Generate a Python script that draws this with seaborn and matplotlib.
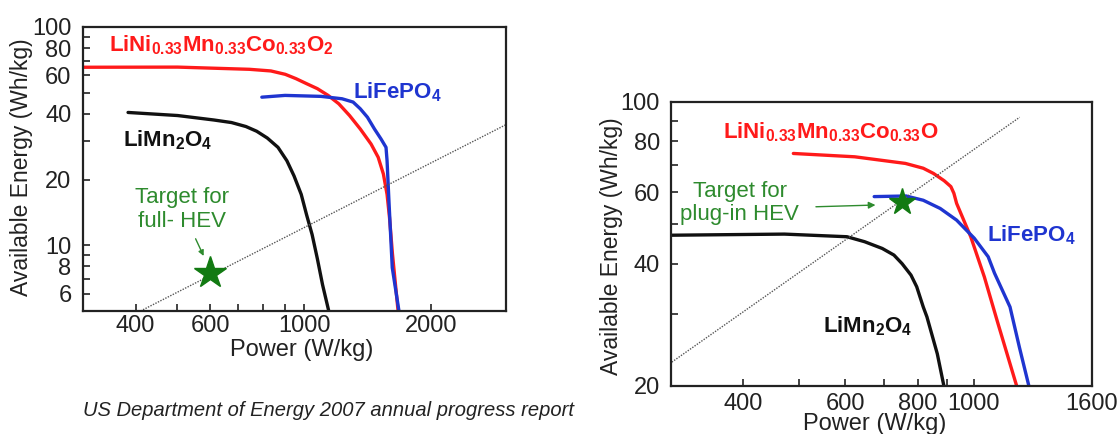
import seaborn as sns
import matplotlib.pyplot as plt
from matplotlib.ticker import NullFormatter

# ---- left panel (full HEV) ----
left_nmc_power = [300, 503, 743, 835, 903, 957, 1014, 1075, 1140, 1208, 1281, 1358, 1440,
                  1497, 1540, 1571, 1592, 1618, 1668]
left_nmc_energy = [65.4, 65.5, 64.0, 62.9, 60.7, 58.0, 55.0, 52.2, 48.6, 44.5, 39.3, 34.1, 29.1,
                   25.3, 21.2, 17.1, 13.4, 9.1, 5.0]
left_lfp_power = [795, 902, 1097, 1230, 1306, 1358, 1412, 1467, 1520, 1562, 1571, 1587, 1616, 1676]
left_lfp_energy = [47.7, 48.6, 48.1, 46.9, 45.3, 42.2, 38.6, 34.1, 30.7, 28.1, 24.4, 16.0, 7.9, 5.0]
left_lmo_power = [384, 503, 612, 674, 729, 773, 819, 868, 911, 947, 985, 1014, 1045, 1075,
                  1106, 1144]
left_lmo_energy = [40.6, 39.3, 37.5, 36.5, 35.0, 33.3, 31.0, 28.1, 24.4, 20.8, 17.1, 13.8, 11.2,
                   8.7, 6.6, 5.0]
left_ratio_power = [411, 3000]
left_ratio_energy = [5.0, 35.7]
left_target = (600, 7.5)

# ---- right panel (plug-in HEV) ----
right_nmc_power = [488, 623, 762, 818, 852, 889, 913, 924, 934, 988, 1043, 1101, 1186]
right_nmc_energy = [74.7, 73.3, 70.6, 68.7, 66.7, 64.0, 61.9, 59.6, 56.3, 46.6, 37.1, 28.5, 20.0]
right_lfp_power = [673, 764, 818, 875, 934, 1002, 1059, 1086, 1155, 1199, 1245]
right_lfp_energy = [58.5, 58.7, 57.3, 54.7, 51.2, 46.2, 41.6, 37.9, 31.3, 24.9, 20.0]
right_lmo_power = [300, 471, 604, 648, 695, 728, 752, 779, 797, 818, 830, 865, 888]
right_lmo_energy = [47.0, 47.3, 46.6, 45.3, 43.6, 42.0, 40.0, 37.5, 35.1, 31.3, 29.6, 24.0, 20.0]
right_ratio_power = [301, 1200]
right_ratio_energy = [22.9, 91.7]
right_target = (752, 56.8)

RED, BLUE, BLACK = '#ff1a1a', '#1f35d0', '#111111'
GREEN_TXT, GREEN_STAR = '#2e8b2e', '#127a12'

sns.set_style('ticks')
plt.rcParams['font.family'] = ['Liberation Sans', 'DejaVu Sans']
plt.rcParams['mathtext.default'] = 'regular'

fig = plt.figure(figsize=(11.17, 4.34), dpi=100)
axL = fig.add_axes([0.074, 0.2834, 0.379, 0.6544])
axR = fig.add_axes([0.6007, 0.1106, 0.3769, 0.6544])


def curve(ax, x, y, color, lw=2.4):
    sns.lineplot(x=x, y=y, ax=ax, color=color, lw=lw, estimator=None, sort=False)


def style(ax, xlim, ylim, xmaj, xmin, ymaj, ymin, fs, xpad=5):
    ax.set_xscale('log')
    ax.set_yscale('log')
    ax.set_xlim(*xlim)
    ax.set_ylim(*ylim)
    ax.set_xticks(xmaj, labels=[str(v) for v in xmaj])
    ax.set_xticks(xmin, minor=True)
    ax.set_yticks(ymaj, labels=[str(v) for v in ymaj])
    ax.set_yticks(ymin, minor=True)
    ax.xaxis.set_minor_formatter(NullFormatter())
    ax.yaxis.set_minor_formatter(NullFormatter())
    ax.tick_params(which='both', direction='in', length=5, width=1.2, color='#222222',
                   labelsize=fs, labelcolor='#222222')
    ax.tick_params(axis='x', which='both', pad=xpad)
    ax.tick_params(axis='y', which='both', pad=8)
    for s in ax.spines.values():
        s.set_linewidth(1.6)
        s.set_color('#222222')


# left
curve(axL, left_nmc_power, left_nmc_energy, RED)
curve(axL, left_lfp_power, left_lfp_energy, BLUE)
curve(axL, left_lmo_power, left_lmo_energy, BLACK)
axL.plot(left_ratio_power, left_ratio_energy, ls=(0, (1, 1)), color='#555555', lw=1.0)
axL.plot(*left_target, marker='*', ms=24, color=GREEN_STAR, mec=GREEN_STAR)
style(axL, (300, 3000), (5, 100), [400, 600, 1000, 2000], [500, 700, 800, 900],
      [6, 8, 10, 20, 40, 60, 80, 100], [7, 9, 30, 50, 70, 90], 17, xpad=3)
axL.set_xlabel('Power (W/kg)', fontsize=17, color='#222222')
axL.set_ylabel('Available Energy (Wh/kg)', fontsize=16.5, color='#222222')
axL.xaxis.set_label_coords(0.518, -0.1)
axL.yaxis.set_label_coords(-0.117, 0.505)
axL.text(347, 82.6, r'LiNi$_{0.33}$Mn$_{0.33}$Co$_{0.33}$O$_2$', color=RED, fontsize=16,
         fontweight='bold', va='center')
axL.text(1306, 50.2, r'LiFePO$_4$', color=BLUE, fontsize=16, fontweight='bold', va='center')
axL.text(373, 30.2, r'LiMn$_2$O$_4$', color=BLACK, fontsize=16, fontweight='bold', va='center')
axL.text(514, 14.6, 'Target for\nfull- HEV', color=GREEN_TXT, fontsize=16, ha='center',
         va='center', linespacing=1.15)
axL.annotate('', xy=(583, 8.7), xytext=(551, 11.0),
             arrowprops=dict(arrowstyle='-|>', color=GREEN_TXT, lw=1.0, mutation_scale=8))

# right
curve(axR, right_nmc_power, right_nmc_energy, RED)
curve(axR, right_lfp_power, right_lfp_energy, BLUE)
curve(axR, right_lmo_power, right_lmo_energy, BLACK)
axR.plot(right_ratio_power, right_ratio_energy, ls=(0, (1, 1)), color='#555555', lw=1.0)
axR.plot(*right_target, marker='*', ms=20, color=GREEN_STAR, mec=GREEN_STAR)
style(axR, (300, 1600), (20, 100), [400, 600, 800, 1000, 1600], [500, 700, 900],
      [20, 40, 60, 80, 100], [30, 50, 70, 90], 17)
axR.set_xlabel('Power (W/kg)', fontsize=17, color='#222222')
axR.set_ylabel('Available Energy (Wh/kg)', fontsize=16.5, color='#222222')
axR.xaxis.set_label_coords(0.485, -0.095)
axR.yaxis.set_label_coords(-0.114, 0.493)
axR.text(369, 84.5, r'LiNi$_{0.33}$Mn$_{0.33}$Co$_{0.33}$O', color=RED, fontsize=16,
         fontweight='bold', va='center')
axR.text(1052, 47.0, r'LiFePO$_4$', color=BLUE, fontsize=16, fontweight='bold', va='center')
axR.text(549, 28.0, r'LiMn$_2$O$_4$', color=BLACK, fontsize=16, fontweight='bold', va='center')
axR.text(394, 56.4, 'Target for\nplug-in HEV', color=GREEN_TXT, fontsize=16, ha='center',
         va='center', linespacing=1.15)
axR.annotate('', xy=(684, 55.8), xytext=(528, 55.2),
             arrowprops=dict(arrowstyle='-|>', color=GREEN_TXT, lw=1.0, mutation_scale=10))

fig.text(0.074, 0.055, 'US Department of Energy 2007 annual progress report', fontsize=14.5,
         style='italic', color='#222222', va='center')

fig.savefig('out.png', dpi=100)
